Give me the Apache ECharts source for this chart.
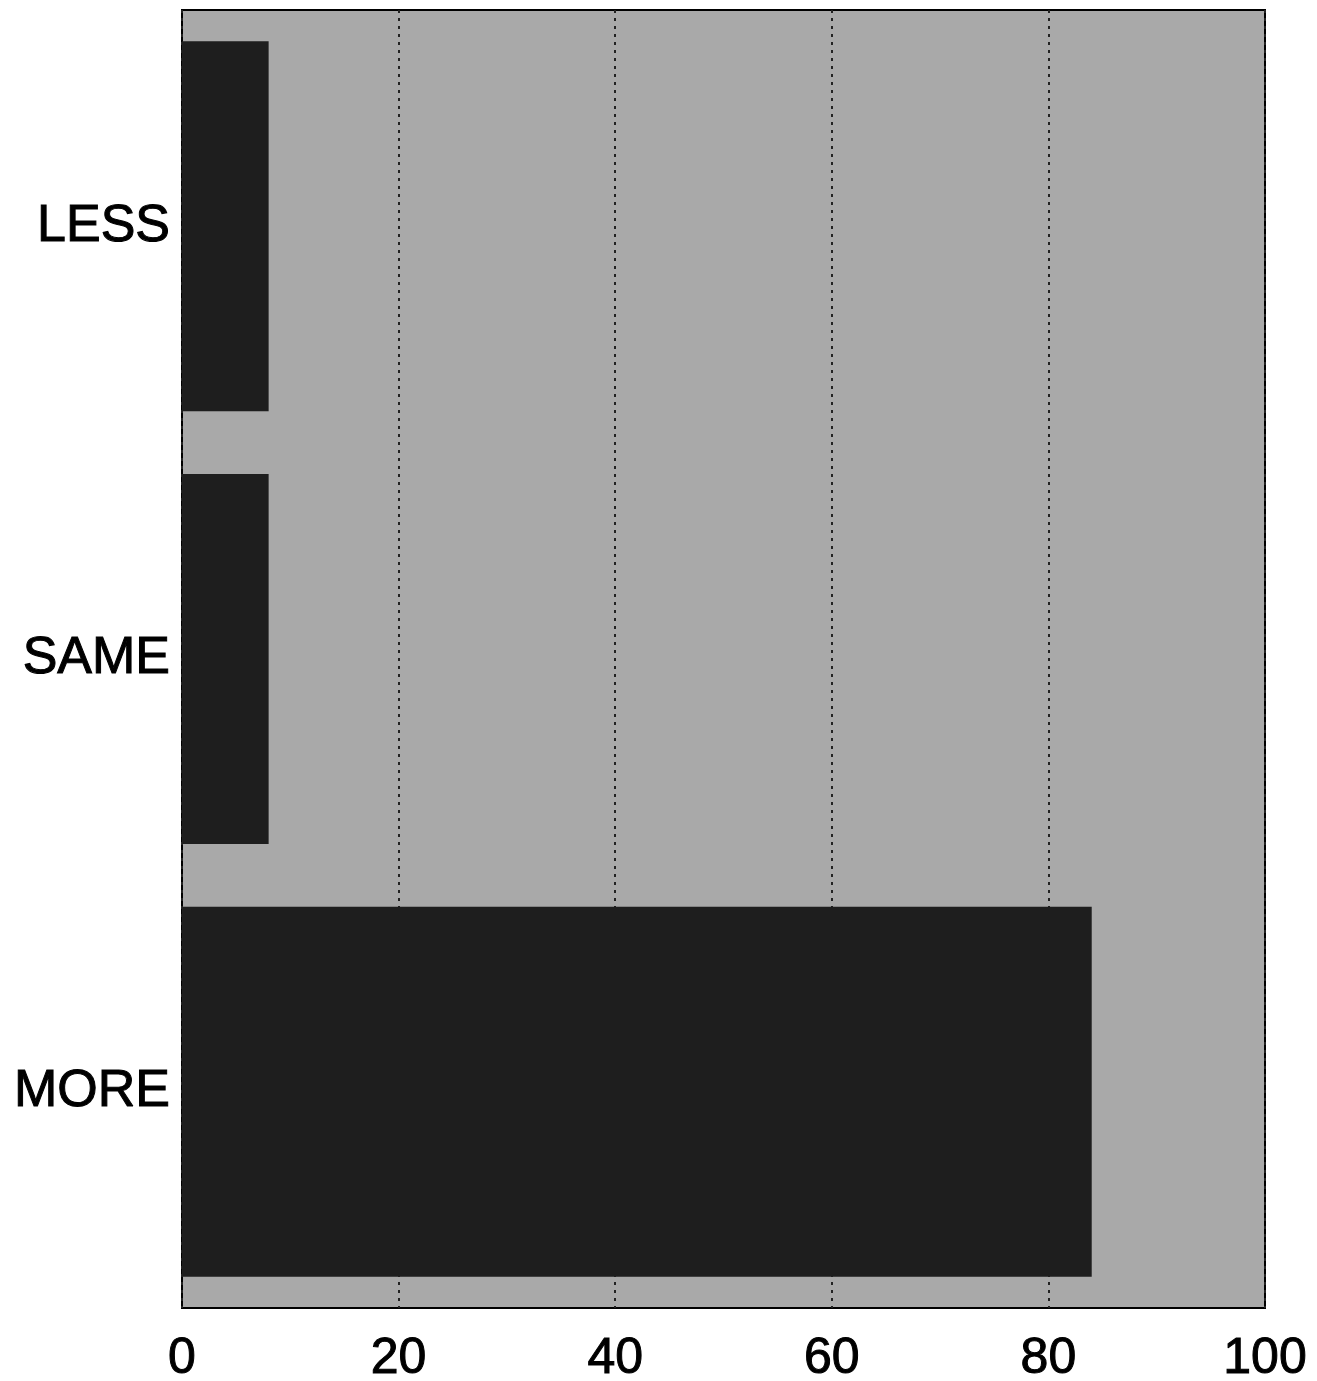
<!DOCTYPE html>
<html><head><meta charset="utf-8">
<script src="https://cdn.jsdelivr.net/npm/echarts@6/dist/echarts.min.js"></script>
<style>html,body{margin:0;padding:0;background:#fff}#c{width:1317px;height:1381px}</style>
</head><body><div id="c"></div>
<script>
const categories = ['MORE', 'SAME', 'LESS'];
const values = [84, 8, 8];
const xTicks = [0, 20, 40, 60, 80, 100];

const chart = echarts.init(document.getElementById('c'));
chart.setOption({
  animation: false,
  backgroundColor: '#fff',
  grid: { left: 182, right: 52, top: 10, bottom: 73, outerBoundsMode: 'none', show: true, backgroundColor: '#a9a9a9', borderColor: '#000', borderWidth: 2 },
  xAxis: {
    type: 'value', min: 0, max: 100, interval: 20,
    axisLine: { show: false }, axisTick: { show: false },
    axisLabel: { fontFamily: 'Liberation Sans, Arial', fontSize: 50, color: '#000', margin: 26,
      textBorderColor: '#000', textBorderWidth: 1,
      formatter: v => xTicks.includes(v) ? String(v) : '' },
    splitLine: { show: true, lineStyle: { color: '#222', type: [3, 5], width: 2 } }
  },
  yAxis: {
    type: 'category', data: categories,
    axisLine: { show: false }, axisTick: { show: false },
    axisLabel: { fontFamily: 'Liberation Sans, Arial', fontSize: 52, color: '#000', margin: 12,
      textBorderColor: '#000', textBorderWidth: 1 }
  },
  series: [{
    type: 'bar', data: values, barCategoryGap: '14.5%',
    itemStyle: { color: '#1e1e1e' }
  }]
});
</script></body></html>
